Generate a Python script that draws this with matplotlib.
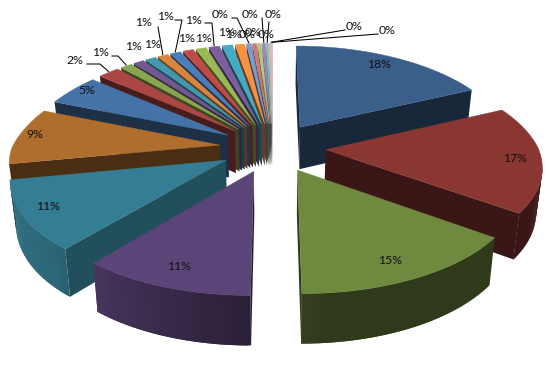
import numpy as np
import matplotlib
matplotlib.use("Agg")
import matplotlib.pyplot as plt

# ---- data (percent share of each slice, clockwise from 12 o'clock)
values = [18, 17, 15, 11, 11, 9, 5, 2, 1.1, 1, 1, 1, 1, 1, 1, 1, 1, 0.9,
          0.45, 0.4, 0.35, 0.3, 0.2, 0.15, 0.1, 0.05]
labels = ["18%", "17%", "15%", "11%", "11%", "9%", "5%", "2%", "1%", "1%", "1%", "1%", "1%",
          "1%", "1%", "1%", "1%", "1%", "0%", "0%", "0%", "0%", "0%", "0%", "0%", "0%"]
colors = ["#3A5F8B", "#8A3734", "#6F8A3F", "#5B4478", "#357D92", "#B06E2E",
          "#4572A7", "#AA4643", "#89A54E", "#71588F", "#4198AF", "#DB843D",
          "#4A7EBB", "#BE4B48", "#98B954", "#7D5FA0", "#46AAC4", "#F69240",
          "#7C9CCB", "#CC7B79", "#B0C77F", "#9C87B6", "#79BFD3", "#F8AC74",
          "#B0C2DE", "#DDAAA9"]

# ---- layout
label_xy = [(379, 64), (515, 158), (390, 261), (179, 267), (48, 206), (35, 134), (87, 91),
            (75, 60), (100, 52), (133, 46), (152, 45), (143, 23), (165, 17), (186, 38),
            (203, 38), (193, 20), (226, 32), (233, 35), (220, 15), (247, 35), (253, 32),
            (250, 15), (273, 15), (266, 34), (354, 26), (387, 31)]
# leader bend points per slice index: [start, elbow]
leaders = {7: [(87, 64), (100, 64)], 8: [(112, 56), (118, 56)], 11: [(158, 27), (158, 27)],
           12: [(175, 20), (182, 20)], 15: [(205, 23), (212, 23)], 18: [(232, 18), (237, 18)],
           21: [(262, 18), (262, 18)], 22: [(269, 22), (269, 22)],
           24: [(345, 30), (345, 30)], 25: [(378, 34), (378, 34)]}
CX, CY = 272.5, 147.4  # pie centre
EXPLODE = 0.25         # explosion as a fraction of the radius
RX, RY = 212.5, 98.4   # radii
K = 0.145              # perspective strength
SLANT = 0.977          # wall bottoms converge towards the centre
RADIAL_BOOST = {4: 0.63}


def project(u, v):
    u, v = np.asarray(u, float), np.asarray(v, float)
    s = 1 / (1 - K * v)
    kx = np.where(v < 0, np.where(u < 0, 0.20, 0.17), K)
    sx = 1 / (1 - kx * v)
    x = CX + RX * u * sx + np.where(u < 0, 2.0 * u ** 4, 0.0)
    return x, CY + RY * v * s


def depth(v):
    return np.interp(v, [-1.2, -0.2, 0.6, 1.23], [38, 42, 46, 50])


def shade(hexcol, f):
    rgb = np.array(matplotlib.colors.to_rgb(hexcol))
    return tuple(np.clip(rgb * f, 0, 1))


def outer_factor(theta):
    d = np.degrees(theta) % 360
    return float(np.interp(d, [0, 175, 185, 225, 250, 262, 360],
                           [0.42, 0.42, 0.5, 0.82, 0.88, 0.44, 0.42]))


fig = plt.figure(figsize=(5.49, 3.71), dpi=100)
ax = fig.add_axes([0, 0, 1, 1])
ax.set_xlim(0, 549)
ax.set_ylim(371, 0)
ax.axis("off")

total = sum(values)
edges = np.radians(np.concatenate([[0], np.cumsum(values)]) / total * 360)
mids = (edges[:-1] + edges[1:]) / 2
rims = {}

for i in sorted(range(len(values)), key=lambda j: -np.cos(mids[j])):
    a0, a1 = edges[i], edges[i + 1]
    eu, ev = EXPLODE * np.sin(mids[i]), -EXPLODE * np.cos(mids[i])
    n = max(3, int(np.degrees(a1 - a0) * 1.5))
    th = np.linspace(a0, a1, n)
    vv = np.concatenate([[ev], ev - np.cos(th), [ev]])
    uu = np.concatenate([[eu], eu + np.sin(th), [eu]])
    xs, ys = project(uu, vv)
    dep = depth(vv)
    bx = CX + (xs - CX) * SLANT
    for k in range(len(xs) - 1):
        if xs[k + 1] - xs[k] < 0:
            radial = k == 0 or k == len(xs) - 2
            if radial:
                col = shade(colors[i], RADIAL_BOOST.get(i, 0.42))
            else:
                col = shade(colors[i], outer_factor((th[k - 1] + th[k]) / 2))
            # extend each arc quad onto its neighbour so no seam shows
            e = min(k + 2, len(xs) - 2) if not radial else k + 1
            idx = list(range(k, e + 1))
            ax.fill(list(xs[idx]) + list(bx[idx])[::-1],
                    list(ys[idx]) + list((ys + dep)[idx])[::-1],
                    fc=col, ec="none", lw=0)
    ax.fill(xs, ys, fc=colors[i], ec=colors[i], lw=0.3)
    mx, my = project(eu + np.sin(mids[i]), ev - np.cos(mids[i]))
    rims[i] = (float(mx), float(my))

for i, pts in leaders.items():
    rx, ry = rims[i]
    ax.plot([p[0] for p in pts] + [rx], [p[1] for p in pts] + [ry - 1],
            color="black", lw=0.75, solid_joinstyle="miter")

for txt, (x, y) in zip(labels, label_xy):
    ax.text(x, y, txt, ha="center", va="center", fontsize=8.8, family="Lato", color="#111111")

fig.savefig("out.png", dpi=100)
